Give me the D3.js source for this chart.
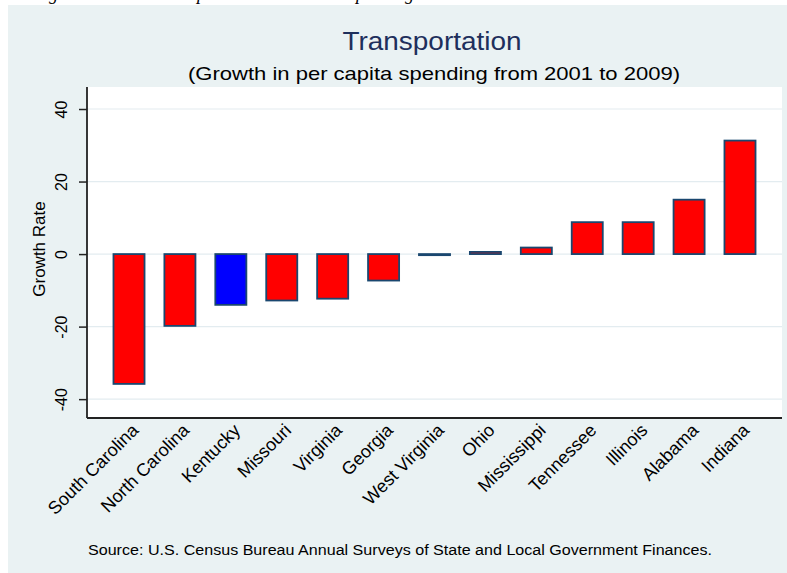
<!DOCTYPE html>
<html>
<head>
<meta charset="utf-8">
<script src="https://cdn.jsdelivr.net/npm/d3@7/dist/d3.min.js"></script>
<style>
  html, body { margin: 0; padding: 0; background: #ffffff; }
  svg { display: block; }
  text { font-family: "Liberation Sans", Arial, sans-serif; }
</style>
</head>
<body>
<svg id="chart" width="787" height="573"></svg>
<script>
// ---- data ----
const states = ["South Carolina", "North Carolina", "Kentucky", "Missouri", "Virginia", "Georgia",
  "West Virginia", "Ohio", "Mississippi", "Tennessee", "Illinois", "Alabama", "Indiana"];
const growth = [-35.8, -19.8, -14.0, -12.8, -12.3, -7.3, -0.3, 0.6, 1.8, 8.8, 8.8, 15.0, 31.3];
const highlight = ["Kentucky"];
const yTicks = [-40, -20, 0, 20, 40];
const yTickLabels = ["-40", "-20", "0", "20", "40"];
const titleText = "Transportation";
const subtitleText = "(Growth in per capita spending from 2001 to 2009)";
const yLabel = "Growth Rate";
const sourceText = "Source: U.S. Census Bureau Annual Surveys of State and Local Government Finances.";

const data = states.map((s, i) => ({ state: s, value: growth[i] }));

const svg = d3.select("#chart");
const W = 787, H = 573;
const plot = { left: 87, right: 782, top: 87, bottom: 418 };

// cut-off caption at very top (only descenders visible, as in the source image)
const cap = svg.append("text")
  .attr("y", -0.5)
  .style("font-family", "'Liberation Serif', 'Times New Roman', serif")
  .style("font-style", "italic")
  .style("font-size", "18px")
  .attr("fill", "#000");
cap.append("tspan").attr("x", 33).text("Figure 5:");
cap.append("tspan").attr("x", 156).text("Transportation");
cap.append("tspan").attr("x", 347).text("Spending Growth");

// outer background
svg.append("rect").attr("x", 8).attr("y", 5).attr("width", W - 8).attr("height", H - 5)
  .attr("fill", "#eaf2f3");

// plot area
svg.append("rect").attr("x", plot.left).attr("y", plot.top)
  .attr("width", plot.right - plot.left).attr("height", plot.bottom - plot.top)
  .attr("fill", "#ffffff");

const x = d3.scaleBand().domain(states).range([plot.left, plot.right])
  .paddingInner(0.39).paddingOuter(0.52);
const y = d3.scaleLinear().domain([-45.2, 46.07]).range([plot.bottom, plot.top]);

// gridlines
svg.append("g").selectAll("line").data(yTicks).join("line")
  .attr("x1", plot.left).attr("x2", plot.right)
  .attr("y1", d => y(d)).attr("y2", d => y(d))
  .attr("stroke", "#e3ecf0").attr("stroke-width", 1.2);

// bars
svg.append("g").selectAll("rect").data(data).join("rect")
  .attr("x", d => x(d.state))
  .attr("width", x.bandwidth())
  .attr("y", d => y(Math.max(0, d.value)))
  .attr("height", d => Math.max(0.5, Math.abs(y(d.value) - y(0))))
  .attr("fill", d => highlight.includes(d.state) ? "#0000ff" : "#ff0000")
  .attr("stroke", "#1a476f")
  .attr("stroke-width", 1.8);

// y axis
const yAxis = d3.axisLeft(y).tickValues(yTicks).tickSize(8)
  .tickFormat(d => yTickLabels[yTicks.indexOf(d)]);
const gy = svg.append("g").attr("transform", `translate(${plot.left},0)`).call(yAxis);
gy.select(".domain").attr("d", `M0,${plot.top}V${plot.bottom}`).attr("stroke", "#222").attr("stroke-width", 1.8);
gy.selectAll(".tick line").attr("stroke", "#222").attr("stroke-width", 1.5);
gy.selectAll(".tick text")
  .attr("x", null).attr("dy", null)
  .attr("transform", "translate(-20,0) rotate(-90)")
  .attr("text-anchor", "middle")
  .style("font-size", "16px")
  .attr("fill", "#000");

// x axis
const xAxis = d3.axisBottom(x).tickSize(0);
const gx = svg.append("g").attr("transform", `translate(0,${plot.bottom})`).call(xAxis);
gx.select(".domain").attr("d", `M${plot.left},0H${plot.right}`).attr("stroke", "#222").attr("stroke-width", 2);
gx.selectAll(".tick text")
  .attr("y", null).attr("dy", null)
  .attr("transform", "translate(6,9) rotate(-45)")
  .attr("text-anchor", "end")
  .attr("dy", "0.35em")
  .style("font-size", "18px")
  .attr("fill", "#000");

// y label
svg.append("text")
  .attr("transform", `translate(45,249) rotate(-90)`)
  .attr("text-anchor", "middle")
  .style("font-size", "17px")
  .attr("fill", "#000")
  .text(yLabel);

// title & subtitle
svg.append("text").attr("x", 432).attr("y", 50)
  .attr("text-anchor", "middle")
  .attr("textLength", 179).attr("lengthAdjust", "spacingAndGlyphs")
  .style("font-size", "26px").attr("fill", "#1e2f5c")
  .text(titleText);
svg.append("text").attr("x", 434).attr("y", 80)
  .attr("text-anchor", "middle")
  .attr("textLength", 492).attr("lengthAdjust", "spacingAndGlyphs")
  .style("font-size", "19px").attr("fill", "#000")
  .text(subtitleText);

// source
svg.append("text").attr("x", 88).attr("y", 555)
  .attr("textLength", 624).attr("lengthAdjust", "spacingAndGlyphs")
  .style("font-size", "14px").attr("fill", "#000")
  .text(sourceText);
</script>
</body>
</html>
